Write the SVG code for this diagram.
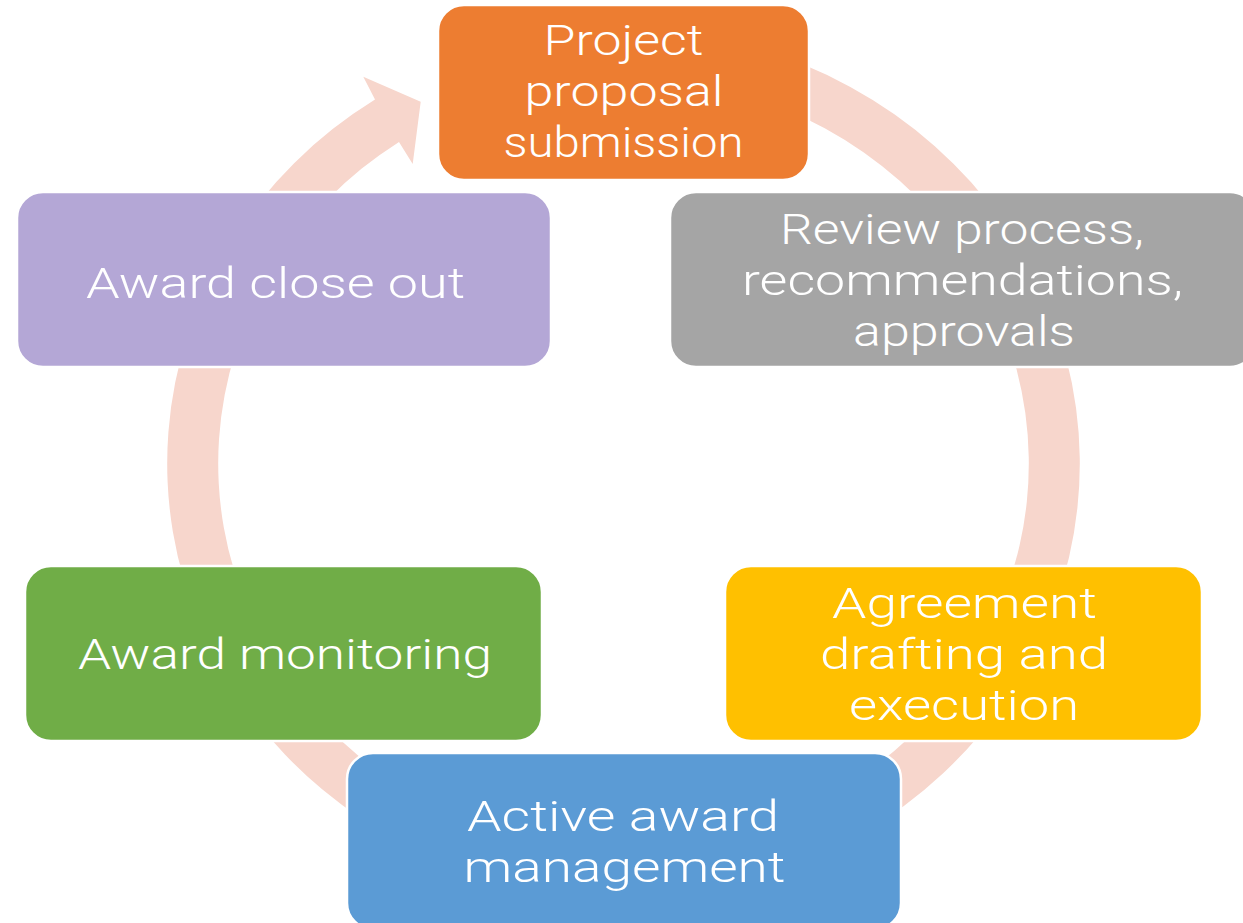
<svg xmlns="http://www.w3.org/2000/svg" width="1243" height="923" viewBox="0 0 1243 923">
<style>
.node{stroke:#ffffff;stroke-width:2.5}
.t{font-family:Roboto,"Open Sans","Liberation Sans",sans-serif;font-weight:300;font-size:43px;fill:#ffffff;text-anchor:middle}
</style>
<rect width="1243" height="923" fill="#ffffff"/>
<g id="connectors">
<path d="M 702.74 36.09 A 456.3 434 0 1 1 375 99.5 L 363.3 76.7 L 420.7 101.7 L 412.7 164 L 399 141.88 A 405.3 386.3 0 1 0 693.88 83.07 Z" fill="#F7D6CC"/>
</g>
<g id="n1">
<rect class="node" x="438" y="5" width="371" height="175" rx="26" fill="#ED7D31"/>
<text class="t" x="623.5" y="55" textLength="160" lengthAdjust="spacingAndGlyphs">Project</text>
<text class="t" x="624" y="106" textLength="199" lengthAdjust="spacingAndGlyphs">proposal</text>
<text class="t" x="623.5" y="157" textLength="240" lengthAdjust="spacingAndGlyphs">submission</text>
</g>
<g id="n2">
<rect class="node" x="670" y="192" width="586" height="175" rx="26" fill="#A5A5A5"/>
<text class="t" x="962" y="244" textLength="364" lengthAdjust="spacingAndGlyphs">Review process,</text>
<text class="t" x="962.5" y="295" textLength="441" lengthAdjust="spacingAndGlyphs">recommendations,</text>
<text class="t" x="964" y="346" textLength="222" lengthAdjust="spacingAndGlyphs">approvals</text>
</g>
<g id="n3">
<rect class="node" x="725" y="566" width="477" height="175" rx="26" fill="#FFC000"/>
<text class="t" x="964.5" y="618" textLength="265" lengthAdjust="spacingAndGlyphs">Agreement</text>
<text class="t" x="964" y="669" textLength="288" lengthAdjust="spacingAndGlyphs">drafting and</text>
<text class="t" x="964" y="720" textLength="230" lengthAdjust="spacingAndGlyphs">execution</text>
</g>
<g id="n4">
<rect class="node" x="347" y="753" width="554" height="176" rx="26" fill="#5B9BD5"/>
<text class="t" x="623" y="831" textLength="312" lengthAdjust="spacingAndGlyphs">Active award</text>
<text class="t" x="624.5" y="882" textLength="322" lengthAdjust="spacingAndGlyphs">management</text>
</g>
<g id="n5">
<rect class="node" x="25" y="566" width="517" height="175" rx="26" fill="#70AD47"/>
<text class="t" x="285" y="669" textLength="414" lengthAdjust="spacingAndGlyphs">Award monitoring</text>
</g>
<g id="n6">
<rect class="node" x="17" y="192" width="534" height="175" rx="26" fill="#B4A7D6"/>
<text class="t" x="275.5" y="298" textLength="379" lengthAdjust="spacingAndGlyphs">Award close out</text>
</g>
</svg>
